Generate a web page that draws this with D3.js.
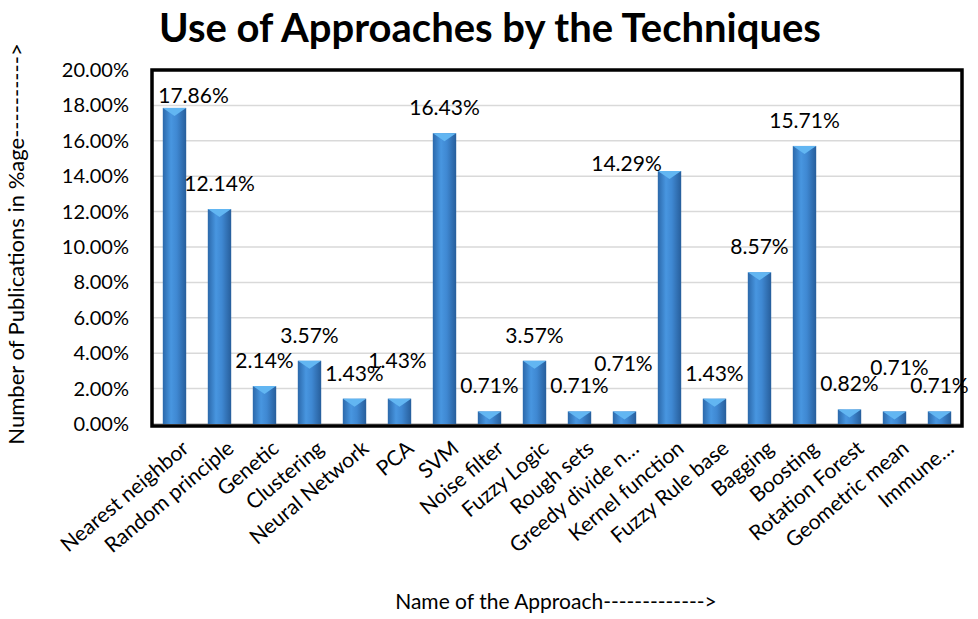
<!DOCTYPE html>
<html lang="en">
  <head>
    <meta charset="utf-8">
    <script src="https://d3js.org/d3.v7.min.js"></script>
    <title>Use of Approaches by the Techniques</title>
    <style>
      body { margin: 0; background: #fff; }
      text { font-family: Lato, "Open Sans", sans-serif; fill: #000; }
    </style>
  </head>
  <body>
    <script>

    var categories = ["Nearest neighbor", "Random principle", "Genetic", "Clustering",
      "Neural Network", "PCA", "SVM", "Noise filter", "Fuzzy Logic", "Rough sets",
      "Greedy divide n\u2026", "Kernel function", "Fuzzy Rule base", "Bagging",
      "Boosting", "Rotation Forest", "Geometric mean", "Immune\u2026"];

    var percents = [17.86, 12.14, 2.14, 3.57, 1.43, 1.43, 16.43, 0.71, 3.57, 0.71,
      0.71, 14.29, 1.43, 8.57, 15.71, 0.82, 0.71, 0.71];

    var yTicks = [0, 2, 4, 6, 8, 10, 12, 14, 16, 18, 20];

    // labels that were dragged around in the original chart
    var nudge = {0: [19, 13], 5: [-2, -13], 10: [-1, -22], 11: [-43, 18], 16: [5, -18]};

    var width = 978, height = 619;
    var plot = {left: 152, right: 962, top: 70, bottom: 424};

    var svg = d3.select("body").append("svg")
        .attr("width", width)
        .attr("height", height);

    var defs = svg.append("defs");
    var grad = defs.append("linearGradient")
        .attr("id", "barGrad")
        .attr("x1", "0%").attr("x2", "100%").attr("y1", "0%").attr("y2", "0%");
    grad.append("stop").attr("offset", "0%").attr("stop-color", "#2b68aa");
    grad.append("stop").attr("offset", "35%").attr("stop-color", "#4896e0");
    grad.append("stop").attr("offset", "60%").attr("stop-color", "#3f88d2");
    grad.append("stop").attr("offset", "100%").attr("stop-color", "#275e9b");

    var x = d3.scaleBand()
        .domain(categories)
        .range([plot.left, plot.right])
        .paddingInner(0.48)
        .paddingOuter(0.24);

    var y = d3.scaleLinear()
        .domain([0, 20])
        .range([plot.bottom, plot.top]);

    // gridlines
    svg.append("g")
      .selectAll("line")
      .data(yTicks.slice(1, -1))
      .enter().append("line")
        .attr("x1", plot.left)
        .attr("x2", plot.right)
        .attr("y1", function(d) { return y(d); })
        .attr("y2", function(d) { return y(d); })
        .attr("stroke", "#d9d9d9")
        .attr("stroke-width", 1.5);

    // floor
    svg.append("rect")
        .attr("x", plot.left)
        .attr("y", plot.bottom - 1)
        .attr("width", plot.right - plot.left)
        .attr("height", 3)
        .attr("fill", "#c8c8c8");

    // bars
    var bars = svg.append("g")
      .selectAll("g")
      .data(percents)
      .enter().append("g");

    bars.append("rect")
        .attr("x", function(d, i) { return x(categories[i]); })
        .attr("y", function(d) { return y(d); })
        .attr("width", x.bandwidth())
        .attr("height", function(d) { return plot.bottom - y(d); })
        .attr("fill", "url(#barGrad)");

    bars.append("polygon")
        .attr("points", function(d, i) {
          var x0 = x(categories[i]), x1 = x0 + x.bandwidth(), t = y(d);
          var xm = x0 + x.bandwidth() / 2;
          return [[x0, t], [x1, t], [x1 - 3, t + 2], [xm, t + 8], [x0 + 3, t + 2]].join(" ");
        })
        .attr("fill", "#62b6f2");

    // frame
    svg.append("rect")
        .attr("x", plot.left)
        .attr("y", plot.top)
        .attr("width", plot.right - plot.left)
        .attr("height", plot.bottom + 2 - plot.top)
        .attr("fill", "none")
        .attr("stroke", "#000")
        .attr("stroke-width", 3.5);

    // data labels
    svg.append("g")
      .selectAll("text")
      .data(percents)
      .enter().append("text")
        .attr("x", function(d, i) {
          var n = nudge[i] || [0, 0];
          return x(categories[i]) + x.bandwidth() / 2 + n[0];
        })
        .attr("y", function(d, i) {
          var n = nudge[i] || [0, 0];
          return y(d) - 18 + n[1];
        })
        .attr("text-anchor", "middle")
        .style("font-size", "21px")
        .text(function(d) { return d.toFixed(2) + "%"; });

    // y axis
    var yAxis = svg.append("g")
        .attr("transform", "translate(" + plot.left + ",0)")
        .call(d3.axisLeft(y)
          .tickValues(yTicks)
          .tickSize(0)
          .tickPadding(23)
          .tickFormat(function(d) { return d.toFixed(2) + "%"; }));
    yAxis.select(".domain").remove();
    yAxis.selectAll("text")
        .style("font-size", "20px")
        .style("font-family", "Lato, sans-serif")
        .attr("fill", "#000");

    // x axis
    var xAxis = svg.append("g")
        .attr("transform", "translate(0," + (plot.bottom + 4) + ")")
        .call(d3.axisBottom(x).tickSize(0).tickPadding(0));
    xAxis.select(".domain").remove();
    xAxis.selectAll("text")
        .style("font-size", "21px")
        .style("font-family", "Lato, sans-serif")
        .attr("fill", "#000")
        .attr("text-anchor", "end")
        .attr("dy", "0.35em")
        .attr("transform", "translate(11,17) rotate(-40)");

    // titles
    svg.append("text")
        .attr("x", 490)
        .attr("y", 42)
        .attr("text-anchor", "middle")
        .style("font-size", "40px")
        .style("font-weight", "bold")
        .text("Use of Approaches by the Techniques");

    svg.append("text")
        .attr("x", 556)
        .attr("y", 609)
        .attr("text-anchor", "middle")
        .style("font-size", "21px")
        .text("Name of the Approach------------->");

    svg.append("text")
        .attr("transform", "translate(24,244) rotate(-90)")
        .attr("text-anchor", "middle")
        .style("font-size", "22px")
        .text("Number of Publications in %age---------->");

    </script>
  </body>
</html>
